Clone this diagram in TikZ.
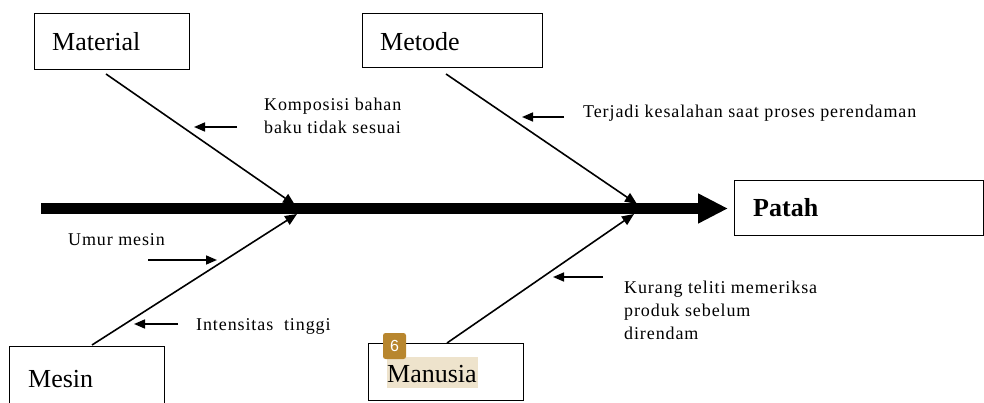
\documentclass[tikz,border=0pt]{standalone}
\usepackage{fontspec}
\setmainfont{Liberation Serif}
\newfontfamily\badgefont{Liberation Sans}
\usetikzlibrary{arrows.meta}
\definecolor{hilite}{HTML}{EEE3CC}
\definecolor{badge}{HTML}{B8862E}
\begin{document}
\begin{tikzpicture}[x=1pt,y=-1pt,
  box/.style={draw,line width=1.3pt,inner sep=0pt,anchor=north west},
  lbl/.style={font=\fontsize{26}{30}\selectfont,anchor=base west,inner sep=0pt},
  cause/.style={font=\fontsize{18}{23}\selectfont\addfontfeatures{LetterSpace=5},anchor=base west,inner sep=0pt,align=left},
  bone/.style={line width=1.6pt,-{Triangle[length=12pt,width=10pt]}},
  ptr/.style={line width=1.6pt,-{Triangle[length=11pt,width=9pt]}},
  spine/.style={line width=11pt,-{Triangle[length=30pt,width=28pt]}},
]
\useasboundingbox (0,0) rectangle (984,403);
\clip (0,0) rectangle (984,403);

% boxes
\node[box,minimum width=155pt,minimum height=56pt] (material) at (34,13) {};
\node[box,minimum width=180pt,minimum height=54pt] (metode) at (362,13) {};
\node[box,minimum width=249pt,minimum height=55pt] (patah) at (734,180) {};
\node[box,minimum width=155pt,minimum height=70pt] (mesin) at (9,346) {};
\node[box,minimum width=155pt,minimum height=57pt] (manusia) at (368,343) {};

% highlight behind Manusia
\fill[hilite] (387,357) rectangle (478,388);

% labels
\node[lbl] (tmaterial) at (52,51) {Material};
\node[lbl] (tmetode) at (380,51) {Metode};
\node[lbl,font=\fontsize{26}{30}\selectfont\bfseries] (tpatah) at (753,217) {Patah};
\node[lbl] (tmesin) at (28,387) {Mesin};
\node[lbl] (tmanusia) at (387,382) {Manusia};

% badge
\node[fill=badge,rounded corners=2.5pt,minimum width=23pt,minimum height=26pt,inner sep=0pt,
      text=white,font=\badgefont\fontsize{16}{16}\selectfont] (badge) at (394.5,346) {6};

% spine
\coordinate (spS) at (41,208.5);
\coordinate (spE) at (728,208.5);
\draw[spine] (spS) -- (spE);

% bones
\coordinate (bmatS) at (106,74);   \coordinate (bmatE) at (295,205);
\coordinate (bmetS) at (446,74);   \coordinate (bmetE) at (637,204);
\coordinate (bmesS) at (92,345);   \coordinate (bmesE) at (297,214);
\coordinate (bmanS) at (447,343);  \coordinate (bmanE) at (634,214);
\draw[bone] (bmatS) -- (bmatE);
\draw[bone] (bmetS) -- (bmetE);
\draw[bone] (bmesS) -- (bmesE);
\draw[bone] (bmanS) -- (bmanE);

% cause arrows
\coordinate (a1S) at (237,127); \coordinate (a1E) at (194,127);
\coordinate (a2S) at (564,117); \coordinate (a2E) at (522,117);
\coordinate (a3S) at (148,260); \coordinate (a3E) at (217,260);
\coordinate (a4S) at (178,324); \coordinate (a4E) at (134,324);
\coordinate (a5S) at (603,277); \coordinate (a5E) at (553,277);
\draw[ptr] (a1S) -- (a1E);
\draw[ptr] (a2S) -- (a2E);
\draw[ptr] (a3S) -- (a3E);
\draw[ptr] (a4S) -- (a4E);
\draw[ptr] (a5S) -- (a5E);

% cause texts (base anchor = baseline of the last line)
\node[cause] (c1) at (264,134) {Komposisi bahan\\baku tidak sesuai};
\node[cause] (c2) at (583,118) {Terjadi kesalahan saat proses perendaman};
\node[cause] (c3) at (68,245) {Umur mesin};
\node[cause] (c4) at (196,330) {Intensitas\ \ tinggi};
\node[cause] (c5) at (624,339) {Kurang teliti memeriksa\\produk sebelum\\direndam};
\end{tikzpicture}
\end{document}
